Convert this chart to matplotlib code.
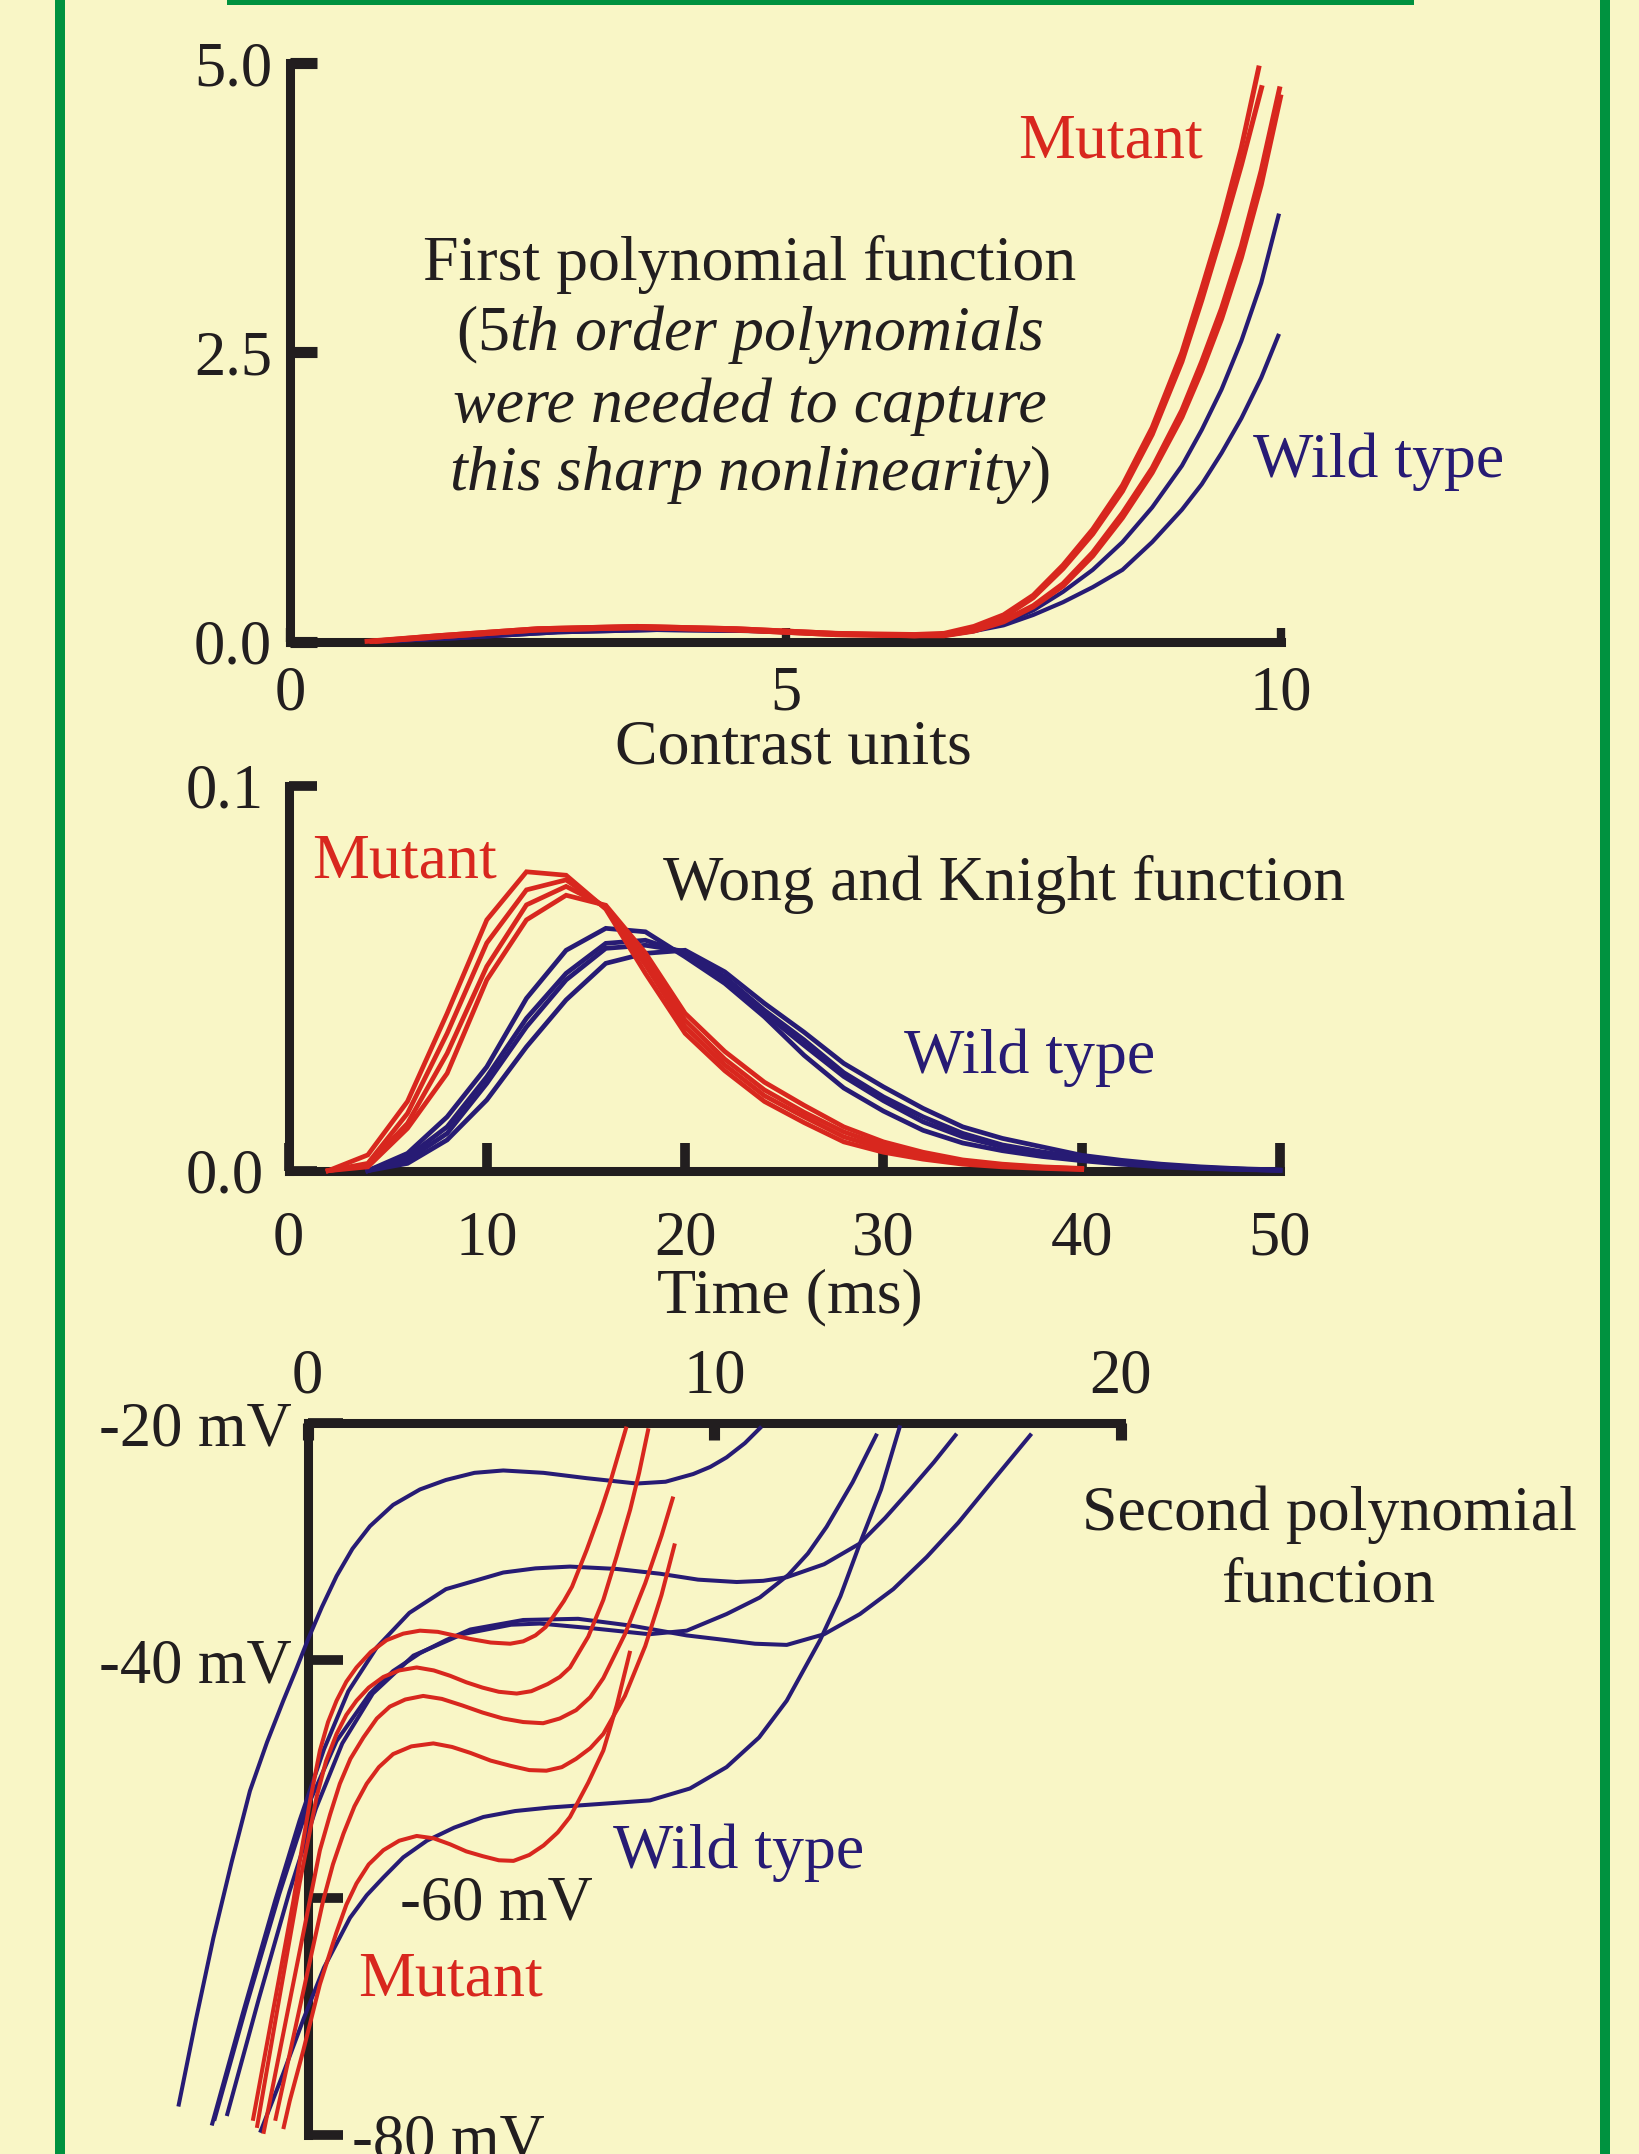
import matplotlib
matplotlib.use('Agg')
import matplotlib.pyplot as plt
from matplotlib.patches import Rectangle

plt.rcParams['font.family'] = ['Liberation Serif', 'DejaVu Serif']
plt.rcParams['mathtext.fontset'] = 'custom'
plt.rcParams['mathtext.rm'] = 'Liberation Serif'
plt.rcParams['mathtext.it'] = 'Liberation Serif:italic'

# ---------------- data: top panel (first polynomial function) ----------------
contrast_ticks = [0, 5, 10]
contrast_tick_labels = ['0', '5', '10']
poly1_ticks = [0.0, 2.5, 5.0]
poly1_tick_labels = ['0.0', '2.5', '5.0']

mut1_a_x = [0.75, 1.5, 2.5, 3.5, 4.5, 5.5, 6.3, 6.6, 6.9, 7.2, 7.5, 7.8, 8.1, 8.4, 8.7, 9.0, 9.2, 9.4, 9.6, 9.78]
mut1_a_y = [0.0, 0.05, 0.11, 0.13, 0.11, 0.07, 0.06, 0.07, 0.13, 0.23, 0.40, 0.66, 0.97, 1.35, 1.85, 2.50, 3.05, 3.62, 4.27, 4.98]
mut1_b_x = [0.8, 1.5, 2.5, 3.5, 4.5, 5.5, 6.3, 6.6, 6.9, 7.2, 7.5, 7.8, 8.1, 8.4, 8.7, 9.0, 9.2, 9.4, 9.6, 9.81]
mut1_b_y = [0.0, 0.04, 0.10, 0.12, 0.10, 0.06, 0.05, 0.06, 0.12, 0.21, 0.38, 0.63, 0.93, 1.30, 1.79, 2.42, 2.95, 3.52, 4.12, 4.81]
mut1_c_x = [0.8, 1.5, 2.5, 3.5, 4.5, 5.5, 6.3, 6.6, 6.9, 7.2, 7.5, 7.8, 8.1, 8.4, 8.7, 9.0, 9.2, 9.4, 9.6, 9.8, 9.99]
mut1_c_y = [0.0, 0.05, 0.11, 0.13, 0.11, 0.07, 0.05, 0.06, 0.10, 0.18, 0.31, 0.50, 0.77, 1.11, 1.50, 2.00, 2.42, 2.88, 3.42, 4.07, 4.80]
mut1_d_x = [0.85, 1.5, 2.5, 3.5, 4.5, 5.5, 6.3, 6.6, 6.9, 7.2, 7.5, 7.8, 8.1, 8.4, 8.7, 9.0, 9.2, 9.4, 9.6, 9.8, 10.0]
mut1_d_y = [0.0, 0.04, 0.10, 0.12, 0.10, 0.06, 0.05, 0.05, 0.09, 0.17, 0.30, 0.48, 0.74, 1.07, 1.46, 1.94, 2.34, 2.79, 3.32, 3.95, 4.73]
wt1_a_x = [0.9, 1.7, 2.7, 3.7, 4.7, 5.6, 6.3, 6.6, 6.9, 7.2, 7.5, 7.8, 8.1, 8.4, 8.7, 9.0, 9.2, 9.4, 9.6, 9.8, 9.98]
wt1_a_y = [0.0, 0.03, 0.08, 0.10, 0.09, 0.06, 0.05, 0.05, 0.09, 0.16, 0.27, 0.43, 0.62, 0.86, 1.16, 1.52, 1.83, 2.18, 2.60, 3.10, 3.70]
wt1_b_x = [0.9, 1.7, 2.7, 3.7, 4.7, 5.6, 6.3, 6.6, 6.9, 7.2, 7.5, 7.8, 8.1, 8.4, 8.7, 9.0, 9.2, 9.4, 9.6, 9.8, 9.98]
wt1_b_y = [0.0, 0.03, 0.08, 0.10, 0.09, 0.06, 0.06, 0.06, 0.09, 0.14, 0.23, 0.34, 0.47, 0.62, 0.86, 1.14, 1.36, 1.63, 1.93, 2.28, 2.66]

# ---------------- data: middle panel (Wong and Knight function) ----------------
time_ticks = [0, 10, 20, 30, 40, 50]
time_tick_labels = ['0', '10', '20', '30', '40', '50']
wk_ticks = [0.0, 0.1]
wk_tick_labels = ['0.0', '0.1']

mut_time = [2, 4, 6, 8, 10, 12, 14, 16, 18, 20, 22, 24, 26, 28, 30, 32, 34, 36, 38, 40]
mut_wk_1 = [0, 0.0041, 0.0180, 0.0409, 0.0652, 0.0777, 0.0768, 0.0680, 0.0513, 0.0357, 0.0260, 0.0180, 0.0125, 0.0075, 0.0048, 0.0030, 0.0017, 0.0010, 0.0006, 0.0003]
mut_wk_2 = [0, 0.0019, 0.0149, 0.0357, 0.0592, 0.0730, 0.0756, 0.0683, 0.0535, 0.0374, 0.0275, 0.0195, 0.0140, 0.0088, 0.0057, 0.0036, 0.0022, 0.0013, 0.0008, 0.0004]
mut_wk_3 = [0, 0.0015, 0.0123, 0.0305, 0.0531, 0.0691, 0.0739, 0.0686, 0.0548, 0.0391, 0.0290, 0.0210, 0.0152, 0.0101, 0.0065, 0.0042, 0.0025, 0.0015, 0.0009, 0.0005]
mut_wk_4 = [0, 0.0010, 0.0110, 0.0253, 0.0496, 0.0652, 0.0716, 0.0690, 0.0566, 0.0409, 0.0310, 0.0230, 0.0170, 0.0114, 0.0075, 0.0048, 0.0028, 0.0017, 0.0010, 0.0006]

wt_time = [4, 6, 8, 10, 12, 14, 16, 18, 20, 22, 24, 26, 28, 30, 32, 34, 36, 38, 40, 42, 44, 46, 48, 50]
wt_wk_1 = [0, 0.0045, 0.0140, 0.0270, 0.0448, 0.0573, 0.0630, 0.0621, 0.0556, 0.0487, 0.0400, 0.0300, 0.0215, 0.0155, 0.0105, 0.0072, 0.0052, 0.0037, 0.0026, 0.0017, 0.0010, 0.0006, 0.0003, 0.0001]
wt_wk_2 = [0, 0.0036, 0.0114, 0.0244, 0.0396, 0.0513, 0.0591, 0.0599, 0.0565, 0.0495, 0.0409, 0.0326, 0.0245, 0.0182, 0.0127, 0.0088, 0.0062, 0.0045, 0.0031, 0.0021, 0.0013, 0.0007, 0.0004, 0.0001]
wt_wk_3 = [0, 0.0028, 0.0097, 0.0227, 0.0374, 0.0496, 0.0578, 0.0586, 0.0570, 0.0504, 0.0417, 0.0340, 0.0255, 0.0192, 0.0140, 0.0097, 0.0067, 0.0049, 0.0034, 0.0023, 0.0014, 0.0008, 0.0004, 0.0001]
wt_wk_4 = [0, 0.0019, 0.0080, 0.0184, 0.0322, 0.0444, 0.0539, 0.0565, 0.0573, 0.0517, 0.0435, 0.0360, 0.0279, 0.0218, 0.0162, 0.0114, 0.0084, 0.0062, 0.0040, 0.0027, 0.0017, 0.0010, 0.0005, 0.0002]

# ---------------- data: bottom panel (second polynomial function) ----------------
poly2_x_ticks = [0, 10, 20]
poly2_x_labels = ['0', '10', '20']
mv_ticks = [-80, -60, -40, -20]
mv_labels = ['-80 mV', '-60 mV', '-40 mV', '-20 mV']

wt2_1_x = [-3.18, -2.75, -2.32, -1.87, -1.42, -1.0, -0.6, -0.3, 0.0, 0.35, 0.71, 1.1, 1.53, 2.1, 2.76, 3.4, 4.1, 4.81, 5.8, 6.86, 8.09, 8.8, 9.48, 9.9, 10.30, 10.75, 11.16]
wt2_1_v = [-77.6, -70.3, -63.4, -57.0, -51.0, -46.9, -43.4, -40.9, -38.3, -35.5, -32.9, -30.6, -28.7, -26.9, -25.6, -24.8, -24.2, -24.0, -24.2, -24.65, -25.1, -24.95, -24.3, -23.7, -22.9, -21.7, -20.3]
wt2_2_x = [-2.36, -1.6, -0.8, -0.2, 0.4, 1.0, 1.7, 2.5, 3.4, 4.81, 5.6, 6.45, 7.6, 8.66, 9.6, 10.55, 11.2, 11.78, 12.7, 13.58, 14.2, 14.81, 15.4, 15.96]
wt2_2_v = [-79.2, -69.8, -60.25, -53.5, -47.5, -42.6, -38.9, -36.0, -34.0, -32.6, -32.25, -32.1, -32.3, -32.7, -33.2, -33.4, -33.3, -33.0, -31.9, -30.15, -28.0, -25.65, -23.3, -20.9]
wt2_3_x = [-2.30, -1.5, -0.7, 0.0, 0.71, 1.53, 2.1, 2.76, 3.4, 4.0, 5.3, 6.65, 8.0, 9.32, 10.3, 11.0, 11.78, 12.7, 13.58, 14.4, 15.22, 16.0, 16.86, 17.8]
wt2_3_v = [-78.8, -69.0, -59.7, -52.3, -46.8, -42.8, -40.9, -39.4, -38.3, -37.4, -36.6, -36.5, -37.1, -37.9, -38.3, -38.6, -38.7, -37.8, -36.1, -34.0, -31.3, -28.4, -24.8, -20.9]
wt2_4_x = [-1.99, -1.2, -0.45, 0.2, 0.85, 1.6, 2.6, 3.8, 5.0, 5.71, 7.0, 8.4, 9.32, 10.3, 11.12, 11.82, 12.3, 12.76, 13.4, 14.0]
wt2_4_v = [-78.4, -68.5, -59.5, -52.5, -47.0, -42.8, -39.6, -37.8, -37.0, -36.9, -37.3, -37.8, -37.5, -36.1, -34.7, -32.8, -31.0, -28.75, -25.0, -20.9]
wt2_5_x = [-1.17, -0.6, -0.1, 0.4, 1.04, 1.45, 1.86, 2.35, 2.93, 3.6, 4.32, 5.1, 5.96, 7.2, 8.42, 9.4, 10.30, 11.1, 11.78, 12.60, 13.1, 13.58, 14.1, 14.57]
wt2_5_v = [-79.8, -74.8, -70.2, -65.9, -61.7, -59.8, -58.3, -56.6, -55.2, -54.1, -53.2, -52.7, -52.4, -52.1, -51.8, -50.8, -49.0, -46.5, -43.4, -38.3, -34.6, -30.15, -25.6, -20.2]

mut2_1_x = [-1.35, -0.85, -0.35, -0.15, 0.06, 0.30, 0.5, 0.71, 0.95, 1.20, 1.55, 1.94, 2.35, 2.76, 3.2, 3.6, 4.0, 4.5, 4.98, 5.3, 5.6, 5.85, 6.04, 6.3, 6.5, 6.86, 7.2, 7.43, 7.84]
mut2_1_v = [-78.8, -69.5, -60.25, -56.0, -51.8, -47.6, -45.2, -43.4, -41.8, -40.6, -39.3, -38.3, -37.75, -37.5, -37.6, -37.9, -38.2, -38.5, -38.6, -38.4, -37.9, -37.2, -36.3, -35.0, -33.8, -30.7, -27.5, -25.1, -20.3]
mut2_2_x = [-1.25, -0.7, -0.2, 0.22, 0.45, 0.71, 0.95, 1.20, 1.5, 1.86, 2.25, 2.68, 3.1, 3.5, 3.9, 4.3, 4.7, 5.14, 5.5, 5.9, 6.2, 6.45, 6.9, 7.27, 7.6, 7.93, 8.15, 8.38]
mut2_2_v = [-79.4, -68.5, -58.8, -51.5, -48.5, -46.2, -44.6, -43.4, -42.3, -41.4, -40.85, -40.6, -40.85, -41.3, -41.85, -42.3, -42.65, -42.8, -42.6, -42.0, -41.4, -40.6, -38.0, -34.9, -31.2, -27.3, -24.2, -20.45]
mut2_3_x = [-1.09, -0.4, 0.30, 0.55, 0.79, 1.05, 1.37, 1.7, 2.02, 2.4, 2.84, 3.3, 3.8, 4.3, 4.8, 5.3, 5.79, 6.2, 6.6, 6.95, 7.27, 7.8, 8.3, 8.7, 8.99]
mut2_3_v = [-79.9, -68.0, -56.0, -53.0, -50.4, -48.3, -46.5, -44.9, -43.9, -43.3, -43.0, -43.25, -43.8, -44.4, -44.9, -45.2, -45.3, -44.9, -44.2, -43.1, -41.5, -37.8, -33.5, -29.5, -26.2]
mut2_4_x = [-0.80, -0.4, 0.0, 0.38, 0.62, 0.88, 1.15, 1.45, 1.75, 2.1, 2.55, 3.09, 3.55, 4.0, 4.5, 5.0, 5.45, 5.87, 6.25, 6.6, 6.95, 7.27, 7.8, 8.3, 8.7, 9.03]
mut2_4_v = [-78.8, -72.5, -66.2, -60.25, -57.2, -54.6, -52.3, -50.4, -49.0, -47.9, -47.25, -47.0, -47.3, -47.8, -48.45, -48.9, -49.25, -49.3, -49.0, -48.3, -47.4, -46.2, -43.0, -38.8, -34.5, -30.15]
mut2_5_x = [-0.60, -0.44, -0.11, 0.30, 0.7, 0.95, 1.2, 1.5, 1.86, 2.25, 2.68, 3.1, 3.5, 3.9, 4.3, 4.7, 5.06, 5.45, 5.8, 6.15, 6.45, 6.9, 7.27, 7.6, 7.93]
mut2_5_v = [-79.5, -77.1, -72.9, -67.3, -63.0, -60.6, -58.8, -57.2, -56.0, -55.2, -54.8, -55.0, -55.5, -56.1, -56.5, -56.85, -56.9, -56.4, -55.6, -54.5, -53.2, -50.3, -47.6, -43.8, -39.2]

# ---------------- styling ----------------
W, H, DPI = 1639, 2154, 100
BG = '#F9F6C6'
RED = '#D8271E'
BLUE = '#271B74'
BLACK = '#221E1F'
GREEN = '#00923F'
FS = 46
TFS = 45

fig = plt.figure(figsize=(W / DPI, H / DPI), dpi=DPI, facecolor=BG)


def px_axes(x0, x1, y_top, y_bot):
    ax = fig.add_axes([x0 / W, 1 - y_bot / H, (x1 - x0) / W, (y_bot - y_top) / H])
    ax.set_facecolor('none')
    return ax


def ftext(x, y, s, **kw):
    kw.setdefault('fontsize', FS)
    kw.setdefault('color', BLACK)
    fig.text(x / W, 1 - y / H, s, **kw)


def style_spines(ax, show):
    for k, sp in ax.spines.items():
        if k in show:
            sp.set_linewidth(6.5)
            sp.set_color(BLACK)
            sp.set_capstyle('projecting')
            sp.set_zorder(2)
        else:
            sp.set_visible(False)


# green frame
fig.add_artist(Rectangle((55 / W, 0), 9.5 / W, 1, transform=fig.transFigure, color=GREEN, lw=0))
fig.add_artist(Rectangle((1600 / W, 0), 10 / W, 1, transform=fig.transFigure, color=GREEN, lw=0))
fig.add_artist(Rectangle((227 / W, 1 - 5 / H), (1414 - 227) / W, 5 / H, transform=fig.transFigure, color=GREEN, lw=0))

smooth = dict(solid_capstyle='butt', solid_joinstyle='round', clip_on=False)

# ---------------- top panel ----------------
ax1 = px_axes(290.3, 1281, 63.3, 641.5)
ax1.set_xlim(0, 10)
ax1.set_ylim(0, 5)
style_spines(ax1, ['left', 'bottom'])
for xs, ys in [(wt1_b_x, wt1_b_y), (wt1_a_x, wt1_a_y)]:
    ax1.plot(xs, ys, color=BLUE, lw=3.0, zorder=5, **smooth)
for xs, ys in [(mut1_d_x, mut1_d_y), (mut1_c_x, mut1_c_y), (mut1_b_x, mut1_b_y), (mut1_a_x, mut1_a_y)]:
    ax1.plot(xs, ys, color=RED, lw=3.6, zorder=6, **smooth)
ax1.set_xticks(contrast_ticks, contrast_tick_labels)
ax1.set_yticks(poly1_ticks, poly1_tick_labels)
ax1.tick_params(axis='x', direction='in', length=10, width=6, color=BLACK, labelsize=TFS, pad=17, labelcolor=BLACK)
ax1.tick_params(axis='y', direction='in', length=19.5, width=8, color=BLACK, labelsize=TFS, pad=13, labelcolor=BLACK)

ftext(749.5, 280, 'First polynomial function', ha='center', va='baseline')
ftext(749.5, 350, r'($\mathit{5th\ order\ polynomials}$', ha='center', va='baseline')
ftext(749.5, 421.7, 'were needed to capture', ha='center', va='baseline', style='italic')
ftext(749.5, 490, r'$\mathit{this\ sharp\ nonlinearity}$)', ha='center', va='baseline')
ftext(1110, 157, 'Mutant', ha='center', va='baseline', color=RED)
ftext(1379, 477, 'Wild type', ha='center', va='baseline', color=BLUE)
ftext(793, 764, 'Contrast units', ha='center', va='baseline')

# ---------------- middle panel ----------------
ax2 = px_axes(288.5, 1280, 786, 1170.7)
ax2.set_xlim(0, 50)
ax2.set_ylim(0, 0.1)
style_spines(ax2, ['left', 'bottom'])
for ys in [wt_wk_4, wt_wk_3, wt_wk_2, wt_wk_1]:
    ax2.plot(wt_time, ys, color=BLUE, lw=3.4, zorder=5, clip_on=False, solid_joinstyle='miter')
for ys in [mut_wk_4, mut_wk_3, mut_wk_2, mut_wk_1]:
    ax2.plot(mut_time, ys, color=RED, lw=3.4, zorder=6, clip_on=False, solid_joinstyle='miter')
ax2.set_xticks(time_ticks, time_tick_labels)
ax2.set_yticks(wk_ticks, wk_tick_labels)
ax2.tick_params(axis='x', direction='in', length=20, width=7, color=BLACK, labelsize=TFS, pad=29, labelcolor=BLACK)
ax2.tick_params(axis='y', direction='in', length=20.5, width=7, color=BLACK, labelsize=TFS, pad=18, labelcolor=BLACK)

ftext(405, 878, 'Mutant', ha='center', va='baseline', color=RED)
ftext(1004.5, 900, 'Wong and Knight function', ha='center', va='baseline')
ftext(1030, 1073, 'Wild type', ha='center', va='baseline', color=BLUE)
ftext(790, 1312, 'Time (ms)', ha='center', va='baseline')

# ---------------- bottom panel ----------------
ax3 = px_axes(307.7, 1121, 1423, 2135)
ax3.set_xlim(0, 20)
ax3.set_ylim(-80, -20)
style_spines(ax3, ['left', 'top'])
ax3.xaxis.tick_top()
wt_curves = [(wt2_1_x, wt2_1_v), (wt2_2_x, wt2_2_v), (wt2_3_x, wt2_3_v), (wt2_4_x, wt2_4_v), (wt2_5_x, wt2_5_v)]
mut_curves = [(mut2_1_x, mut2_1_v), (mut2_2_x, mut2_2_v), (mut2_3_x, mut2_3_v), (mut2_4_x, mut2_4_v), (mut2_5_x, mut2_5_v)]
for xs, vs in wt_curves:
    ax3.plot(xs, vs, color=BLUE, lw=2.9, zorder=5, **smooth)
for xs, vs in mut_curves:
    ax3.plot(xs, vs, color=RED, lw=2.9, zorder=6, **smooth)
ax3.set_xticks(poly2_x_ticks, poly2_x_labels)
ax3.set_yticks(mv_ticks, ['', '', mv_labels[2], mv_labels[3]])
ax3.tick_params(axis='x', direction='in', length=12, width=8, color=BLACK, labelsize=TFS, pad=12,
                labelcolor=BLACK, top=True, bottom=False, labeltop=True, labelbottom=False)
ax3.tick_params(axis='y', direction='in', length=25, width=7, color=BLACK, labelsize=TFS, pad=11.5, labelcolor=BLACK)
ax3.text(2.27, mv_ticks[1], mv_labels[1], fontsize=TFS, color=BLACK, ha='left', va='center_baseline')
ax3.text(1.1, mv_ticks[0], mv_labels[0], fontsize=TFS, color=BLACK, ha='left', va='center_baseline', clip_on=False)

ftext(1329, 1530, 'Second polynomial', ha='center', va='baseline')
ftext(1329, 1601, 'function', ha='center', va='baseline')
ftext(739, 1868, 'Wild type', ha='center', va='baseline', color=BLUE)
ftext(451, 1995, 'Mutant', ha='center', va='baseline', color=RED)

fig.savefig('out.png', dpi=DPI, facecolor=BG)
